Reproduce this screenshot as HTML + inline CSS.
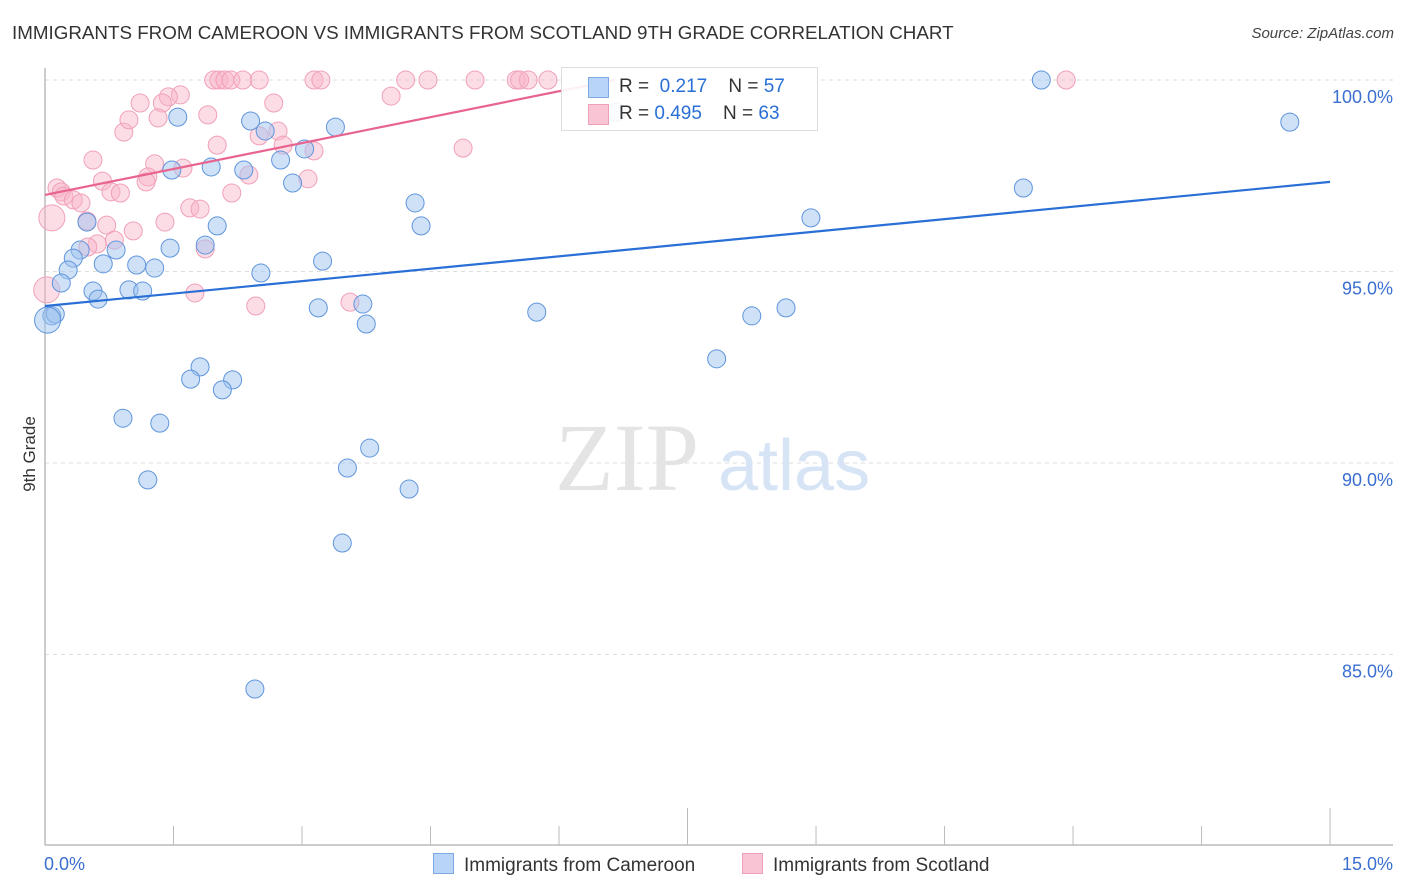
<!DOCTYPE html>
<html><head><meta charset="utf-8"><style>
body{margin:0;background:#fff;font-family:"Liberation Sans",sans-serif}
#wrap{position:relative;width:1406px;height:892px;overflow:hidden}
.t{position:absolute;white-space:nowrap}
</style></head><body>
<div id="wrap">
<div class="t" style="left:12px;top:22px;font-size:18.8px;color:#333">IMMIGRANTS FROM CAMEROON VS IMMIGRANTS FROM SCOTLAND 9TH GRADE CORRELATION CHART</div>
<div class="t" style="right:12px;top:25px;font-size:15px;color:#444;font-style:italic">Source: ZipAtlas.com</div>
<div class="t" style="left:-8px;top:444px;font-size:17px;color:#333;transform:rotate(-90deg)">9th Grade</div>
<svg id="svg" width="1406" height="892" style="position:absolute;left:0;top:0"></svg>
</div>
<script>
const blueX=[1.55,2.40,2.57,3.39,2.75,3.03,1.94,1.48,2.32,2.89,4.32,4.39,2.01,0.49,0.41,0.83,0.33,0.68,1.07,1.28,1.46,1.87,2.52,3.24,0.27,0.19,0.56,0.62,0.98,1.14,3.19,3.71,3.75,5.74,8.25,8.65,8.94,11.42,11.63,14.53,7.84,1.81,1.70,2.19,2.07,0.91,1.34,1.20,3.53,3.79,4.25,3.47,2.45,0.08,0.12,0.03,6.67];
const blueY=[99.03,98.93,98.67,98.77,97.91,98.20,97.73,97.65,97.65,97.31,96.79,96.19,96.19,96.29,95.56,95.56,95.35,95.20,95.17,95.09,95.61,95.69,94.96,95.27,95.04,94.70,94.49,94.28,94.52,94.49,94.05,94.15,93.63,93.94,93.84,94.05,96.40,97.18,100.0,98.90,92.72,92.51,92.19,92.17,91.91,91.17,91.04,89.56,89.87,90.39,89.32,87.91,84.10,93.84,93.89,93.73,99.16];
const blueBig=[55];
const pinkX=[1.97,2.03,2.10,2.17,2.31,2.50,3.14,3.22,4.21,4.47,5.02,5.50,5.64,5.87,11.92,4.04,1.58,1.44,1.11,1.37,2.67,0.92,0.98,1.32,1.90,2.72,2.50,2.01,2.78,3.14,4.88,0.56,1.28,1.61,1.20,1.18,2.38,3.07,0.67,0.77,0.88,2.18,0.14,0.19,0.22,0.33,0.42,0.08,0.49,1.40,0.72,1.03,1.69,1.81,0.61,0.81,1.87,0.50,1.75,2.46,3.56,0.02,5.54];
const pinkY=[100,100,100,100,100,100,100,100,100,100,100,100,100,100,100,99.58,99.61,99.56,99.40,99.40,99.40,98.64,98.96,99.01,99.09,98.67,98.54,98.30,98.30,98.15,98.22,97.91,97.81,97.70,97.47,97.34,97.52,97.42,97.36,97.08,97.05,97.05,97.18,97.08,96.97,96.87,96.79,96.40,96.32,96.29,96.21,96.06,96.66,96.63,95.72,95.82,95.59,95.64,94.44,94.10,94.20,94.52,100];
const pinkBig=[47,61];
const blueTrend=[[0,94.10],[15,97.34]];
const pinkTrend=[[0,97.0],[6.65,100.0]];
const yTicks=[100,95,90,85];
const xTicks=[0,1.5,3,4.5,6,7.5,9,10.5,12,13.5,15];

const sx=v=>45+v*85.67, sy=v=>80+(100-v)*38.3;
const svg=document.getElementById('svg');
const NS='http://www.w3.org/2000/svg';
function mk(tag,at,parent){const e=document.createElementNS(NS,tag);for(const k in at)e.setAttribute(k,at[k]);(parent||svg).appendChild(e);return e;}
yTicks.forEach(v=>{
 const l=mk('line',{x1:45,x2:1393,y1:sy(v),y2:sy(v),stroke:'#ddd','stroke-dasharray':'4,4'});
 
 
 const t=mk('text',{x:1393,y:sy(v)+23,'text-anchor':'end','font-size':18,fill:'#3a6fd0','font-family':'Liberation Sans'});
 t.textContent=v.toFixed(1)+'%';
 
 
});
const ax=mk('line',{x1:45,x2:1393,y1:845,y2:845,stroke:'#bbb','stroke-width':1.5});


const ay=mk('line',{x1:45,x2:45,y1:68,y2:845,stroke:'#bbb','stroke-width':1.5});


xTicks.forEach((v,i)=>{
 const tall=(i==5||i==10);
 const l=mk('line',{x1:sx(v),x2:sx(v),y1:tall?808:826,y2:845,stroke:'#bbb'});
 
 
});
[[0,'start'],[15,'end']].forEach(([v,a])=>{
 const t=mk('text',{x:v==0?44:1393,y:870,'text-anchor':a,'font-size':18,fill:'#3a6fd0','font-family':'Liberation Sans'});
 t.textContent=v.toFixed(1)+'%';
 
 
});
const wm=mk('text',{x:555,y:490,'font-size':96,fill:'#e4e4e4','font-family':'Liberation Serif'});
wm.textContent='ZIP';


const wm2=mk('text',{x:718,y:490,'font-size':72,fill:'#d6e4f6','font-family':'Liberation Sans'});
wm2.textContent='atlas';


function pts(X,Y,big,fill,stroke,name){
 X.forEach((x,i)=>{
  const c=mk('circle',{cx:sx(x),cy:sy(Y[i]),r:big.includes(i)?13:9,fill:fill,stroke:stroke,'stroke-width':1});
  
  
 });
}
pts(pinkX,pinkY,pinkBig,'rgba(248,180,200,0.45)','#f0a0b8','scotland-point');
pts(blueX,blueY,blueBig,'rgba(160,196,240,0.5)','#5f95dc','cameroon-point');
const bl=mk('line',{x1:sx(blueTrend[0][0]),y1:sy(blueTrend[0][1]),x2:sx(blueTrend[1][0]),y2:sy(blueTrend[1][1]),stroke:'#2a6fd6','stroke-width':2.2});


const pl=mk('line',{x1:sx(pinkTrend[0][0]),y1:sy(pinkTrend[0][1]),x2:sx(pinkTrend[1][0]),y2:sy(pinkTrend[1][1]),stroke:'#e8648e','stroke-width':2.2});


</script>
<div class="t" style="left:561px;top:67px;width:255px;height:62px;background:rgba(255,255,255,0.9);border:1px solid #ddd;font-size:19px;color:#333">
 <div style="position:absolute;left:26px;top:9px;width:19px;height:19px;background:#b8d4f6;border:1px solid #7ea9e4"></div>
 <div style="position:absolute;left:26px;top:36px;width:19px;height:19px;background:#f9c4d3;border:1px solid #eea0b6"></div>
 <div class="t" style="left:57px;top:8px">R = &nbsp;<span style="color:#2a6fd6">0.217</span>&nbsp;&nbsp;&nbsp; N = <span style="color:#2a6fd6">57</span></div>
 <div class="t" style="left:57px;top:35px">R = <span style="color:#2a6fd6">0.495</span>&nbsp;&nbsp;&nbsp; N = <span style="color:#2a6fd6">63</span></div>
</div>
<div class="t" style="left:433px;top:853px;font-size:19px;color:#333"><span style="display:inline-block;width:19px;height:19px;background:#b8d4f6;border:1px solid #7ea9e4;vertical-align:-3px;margin-right:10px"></span>Immigrants from Cameroon</div>
<div class="t" style="left:742px;top:853px;font-size:19px;color:#333"><span style="display:inline-block;width:19px;height:19px;background:#f9c4d3;border:1px solid #eea0b6;vertical-align:-3px;margin-right:10px"></span>Immigrants from Scotland</div>
</body></html>
